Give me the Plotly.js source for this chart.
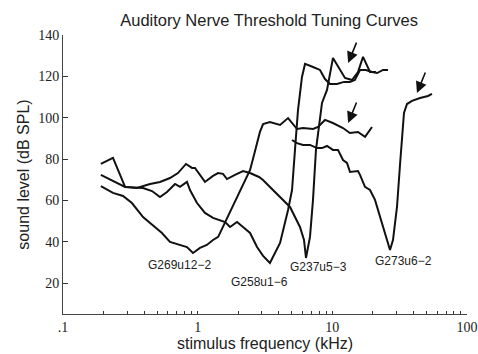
<!DOCTYPE html>
<html>
<head>
<meta charset="utf-8">
<script src="https://cdn.plot.ly/plotly-3.0.1.min.js"></script>
<style>html,body{margin:0;padding:0;background:#fff;}#chart{width:478px;height:354px;}</style>
</head>
<body>
<div id="chart"></div>
<script>
// Unit G269u12-2
const g269Freq = [0.191,0.235,0.279,0.325,0.393,0.458,0.543,0.623,0.714,0.833,0.923,1.04,1.17,1.30,1.42,1.60,1.83,2.06,2.29,2.45,2.62,2.76,2.90,3.06,3.44,4.09,4.69,5.47,6.06,7.19,7.83,8.82,10.1,12.0,13.5,15.5,17.5,19.7];
const g269Level = [66.9,63.6,62.1,58.7,51.9,48.1,44.2,39.9,38.9,37.4,34.5,37.0,38.4,40.8,42.3,49.5,57.8,65.0,70.8,74.7,81.9,87.7,93.1,96.9,97.9,96.5,99.8,94.5,95.0,94.5,95.5,98.9,97.4,95.0,92.6,93.1,90.7,95.5];

// Unit G258u1-6
const g258Freq = [0.191,0.235,0.289,0.393,0.458,0.525,0.592,0.679,0.739,0.833,0.877,0.989,1.133,1.30,1.60,1.74,1.96,2.17,2.45,2.76,3.06,3.44,4.09,4.69,5.02,5.28,5.56,5.95,6.27,7.19,8.10,8.82,9.61,10.83,12.21,13.5,14.7,16.05,17.78,19.7,21.5,23.8,25.9];
const g258Level = [72.3,69.4,66.5,66.0,64.5,61.6,64.0,67.9,66.5,68.9,65.0,58.7,53.9,51.5,49.5,47.1,49.5,47.1,44.2,37.4,33.1,29.7,39.4,55.3,65.0,84.4,103.7,119.7,126.0,124.5,123.1,118.7,116.3,116.3,117.3,117.3,118.2,123.1,123.1,122.1,121.6,123.1,123.1];

// Unit G237u5-3
const g237Freq = [0.191,0.235,0.289,0.354,0.443,0.525,0.623,0.714,0.819,0.908,0.955,1.006,1.133,1.30,1.416,1.542,1.651,1.893,2.171,2.447,2.854,3.055,4.087,4.849,5.75,6.16,6.374,6.825,7.185,7.56,8.381,9.128,10.11,11.21,12.42,14.0,15.51,16.90,18.09,19.04,21.1];
const g237Level = [77.6,80.5,66.5,66.0,67.9,68.9,70.8,73.2,77.6,75.7,75.7,73.7,68.9,71.8,73.2,72.8,70.3,72.3,74.2,73.2,71.3,69.8,61.6,56.8,47.1,40.8,32.1,42.3,60.2,84.4,107.1,113.4,128.9,124.0,119.2,118.2,122.1,129.4,125.0,122.1,122.1];

// Unit G273u6-2
const g273Freq = [5.018,5.466,6.055,6.825,7.694,8.381,9.128,10.11,11.02,12.0,12.85,13.53,15.51,16.05,17.48,19.04,20.74,22.59,24.60,26.81,28.21,30.21,31.80,32.91,34.05,35.85,39.04,44.78,51.32,54.95];
const g273Level = [89.2,87.7,86.8,86.8,85.3,85.3,86.3,84.4,84.4,79.5,78.1,73.7,74.2,72.3,66.5,65.0,60.2,51.9,43.2,36.0,40.8,56.8,77.1,91.6,102.3,106.6,108.1,109.5,110.5,111.5];

// Curve labels
const labelText = ['G269u12\u22122','G258u1\u22126','G237u5\u22123','G273u6\u22122'];
const labelFreq = [0.739,2.90,7.96,33.5];
const labelLevel = [28.7,20.5,27.8,30.7];

// Arrow tips (kHz, dB SPL)
const arrowFreq = [13.1,13.1,42.5];
const arrowLevel = [126.4,97.4,111.9];

// Axis ticks
const xTickVals = [0.1,0.2,0.3,0.4,0.5,0.6,0.7,0.8,0.9,1,2,3,4,5,6,7,8,9,10,20,30,40,50,60,70,80,90,100];
const xTickText = xTickVals.map(v => v === 0.1 ? '.1' : (v === 1 || v === 10 || v === 100) ? String(v) : '');
const yTickVals = [20,40,60,80,100,120,140];

const line = {color:'#111', width:2};
const traces = [
  {x:g269Freq, y:g269Level, name:'G269u12-2'},
  {x:g258Freq, y:g258Level, name:'G258u1-6'},
  {x:g237Freq, y:g237Level, name:'G237u5-3'},
  {x:g273Freq, y:g273Level, name:'G273u6-2'}
].map(t => Object.assign(t, {type:'scatter', mode:'lines', line:line, hoverinfo:'skip'}));

const annotations = [];
labelText.forEach((t,i) => annotations.push({
  x:Math.log10(labelFreq[i]), y:labelLevel[i], xref:'x', yref:'y', text:t, showarrow:false,
  xanchor:'center', yanchor:'middle', font:{family:'Liberation Sans, Arial, sans-serif', size:12, color:'#222'}
}));
arrowFreq.forEach((f,i) => annotations.push({
  x:Math.log10(f), y:arrowLevel[i], xref:'x', yref:'y', text:'', showarrow:true,
  ax:9, ay:-22, arrowhead:2, arrowsize:1.4, arrowwidth:1.6, arrowcolor:'#111', standoff:0
}));

const tickFont = {family:'Liberation Serif, Times New Roman, serif', size:14, color:'#222'};
const titleFont = {family:'Liberation Sans, Arial, sans-serif', size:16, color:'#222'};

const layout = {
  width:478, height:354,
  margin:{l:63, r:11, t:35, b:40},
  paper_bgcolor:'#fff', plot_bgcolor:'#fff',
  showlegend:false,
  title:{text:'Auditory Nerve Threshold Tuning Curves', font:{family:'Liberation Sans, Arial, sans-serif', size:16.5, color:'#222'}, x:0.563, xref:'container', xanchor:'center', y:0.944, yref:'container', yanchor:'middle'},
  xaxis:{type:'log', range:[-1,2], tickvals:xTickVals, ticktext:xTickText, ticks:'inside', ticklen:3, tickcolor:'#333',
    showline:true, linecolor:'#444', linewidth:1, showgrid:false, zeroline:false, tickfont:tickFont,
    title:{text:'stimulus frequency (kHz)', font:titleFont, standoff:1}},
  yaxis:{range:[5,140], tickvals:yTickVals, ticks:'inside', ticklen:5, tickcolor:'#333',
    showline:true, linecolor:'#444', linewidth:1, showgrid:false, zeroline:false, tickfont:tickFont,
    title:{text:'sound level (dB SPL)', font:titleFont, standoff:4}},
  annotations:annotations
};

Plotly.newPlot('chart', traces, layout, {staticPlot:true, displayModeBar:false});
</script>
</body>
</html>
